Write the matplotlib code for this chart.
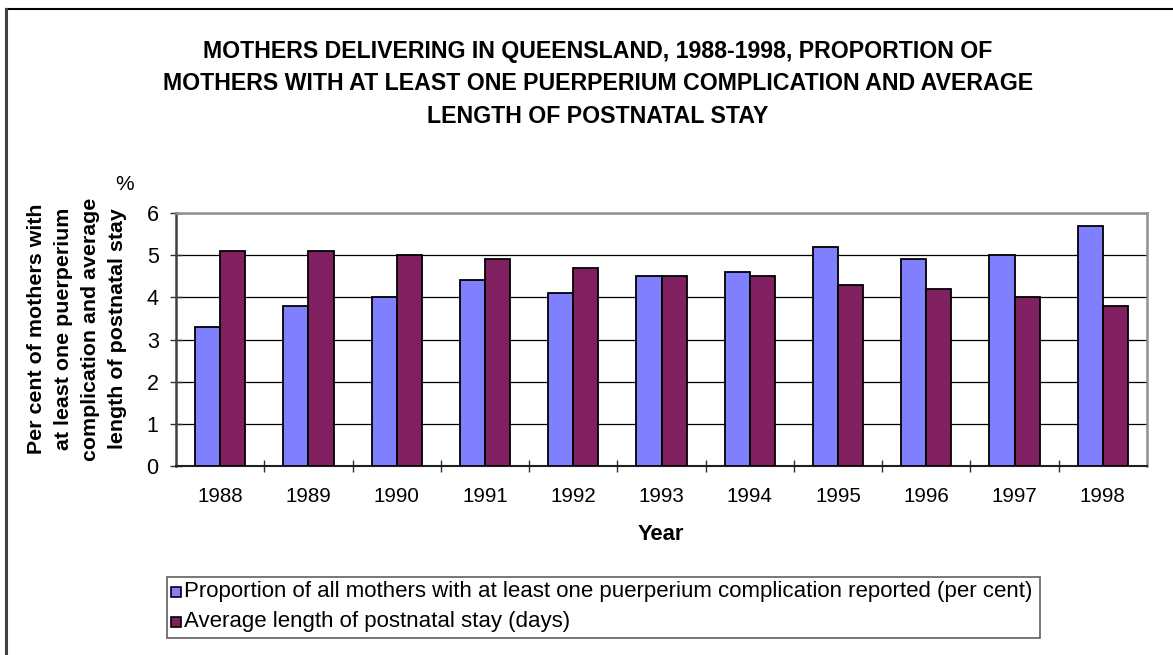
import numpy as np
import matplotlib
matplotlib.use("Agg")
import matplotlib.pyplot as plt
from matplotlib.patches import Rectangle
from matplotlib.lines import Line2D

plt.rcParams.update({"font.family": ["Liberation Sans", "DejaVu Sans"]})

# data
years = ["1988", "1989", "1990", "1991", "1992", "1993",
         "1994", "1995", "1996", "1997", "1998"]
complication_pct = [3.3, 3.8, 4.0, 4.4, 4.1, 4.5, 4.6, 5.2, 4.9, 5.0, 5.7]
postnatal_days = [5.1, 5.1, 5.0, 4.9, 4.7, 4.5, 4.5, 4.3, 4.2, 4.0, 3.8]

series_labels = [
    "Proportion of all mothers with at least one puerperium complication reported (per cent)",
    "Average length of postnatal stay (days)",
]
title = ("MOTHERS DELIVERING IN QUEENSLAND, 1988-1998, PROPORTION OF\n"
         "MOTHERS WITH AT LEAST ONE PUERPERIUM COMPLICATION AND AVERAGE\n"
         "LENGTH OF POSTNATAL STAY")
ylabel = ("Per cent of mothers with\nat least one puerperium\n"
          "complication and average\nlength of postnatal stay")

blue = "#8080FF"
maroon = "#802060"

W, H = 1173, 655
fig = plt.figure(figsize=(W / 100, H / 100), dpi=100)

# outer chart frame (top and left visible)
fig.add_artist(Line2D([5.5 / W, 1], [1 - 9 / H, 1 - 9 / H], color="black", lw=1.5,
                      transform=fig.transFigure))
fig.add_artist(Line2D([5.5 / W, 5.5 / W], [0, 1 - 9 / H], color="#404040", lw=2.2,
                      transform=fig.transFigure))

ax = fig.add_axes([176 / W, 1 - 466 / H, (1147 - 176) / W, (466 - 213) / H])

x = np.arange(len(years))
bw = 0.285
ax.bar(x - bw / 2, complication_pct, bw, color=blue, edgecolor="black", lw=1.3,
       zorder=3, label=series_labels[0])
ax.bar(x + bw / 2, postnatal_days, bw, color=maroon, edgecolor="black", lw=1.3,
       zorder=3, label=series_labels[1])

ax.set_xlim(-0.5, len(years) - 0.5)
ax.set_ylim(0, 6)
ax.set_yticks(range(0, 7))
ax.yaxis.grid(True, color="black", lw=0.9, zorder=0)
ax.set_axisbelow(True)

ax.set_xticks(x)
ax.set_xticklabels(years, fontsize=14.8)
ax.set_xticks(np.arange(0.5, len(years) - 0.5), minor=True)
ax.tick_params(axis="x", which="major", length=0, pad=15)
ax.tick_params(axis="x", which="minor", length=9, direction="inout", width=1,
               color="#303030")
ax.tick_params(axis="y", length=9, direction="inout", width=1, color="#303030",
               labelsize=15.5, pad=8)

ax.spines["left"].set_color("#404040")
ax.spines["left"].set_linewidth(1.8)
ax.spines["bottom"].set_color("#202020")
ax.spines["bottom"].set_linewidth(1.5)
ax.spines["top"].set_color("#909090")
ax.spines["top"].set_linewidth(1.8)
ax.spines["right"].set_color("#909090")
ax.spines["right"].set_linewidth(1.8)

fig.text(598 / W, 1 - 84 / H, title, ha="center", va="center", fontsize=16.7,
         fontweight="bold", linespacing=1.55)
fig.text(77 / W, 1 - 329 / H, ylabel, ha="center", va="center", rotation=90,
         fontsize=15.4, fontweight="bold", linespacing=1.55)
fig.text(125 / W, 1 - 185 / H, "%", ha="center", va="center", fontsize=15)
fig.text(661 / W, 1 - 535 / H, "Year", ha="center", va="center", fontsize=15.8,
         fontweight="bold")

# legend box
fig.add_artist(Rectangle((167 / W, 1 - 638 / H), (1040 - 167) / W, 61 / H,
                         transform=fig.transFigure, fill=False,
                         edgecolor="#606060", lw=1.2))
handles, labels = ax.get_legend_handles_labels()
for i, (h, lab) in enumerate(zip(handles, labels)):
    yc = 1 - (592 + 30 * i) / H
    fc = blue if i == 0 else maroon
    fig.add_artist(Rectangle((171 / W, yc - 5 / H), 10 / W, 10 / H,
                             transform=fig.transFigure, facecolor=fc,
                             edgecolor="black", lw=1.2))
    fig.text(184 / W, yc, lab, ha="left", va="center", fontsize=16)

fig.savefig("out.png", dpi=100)
